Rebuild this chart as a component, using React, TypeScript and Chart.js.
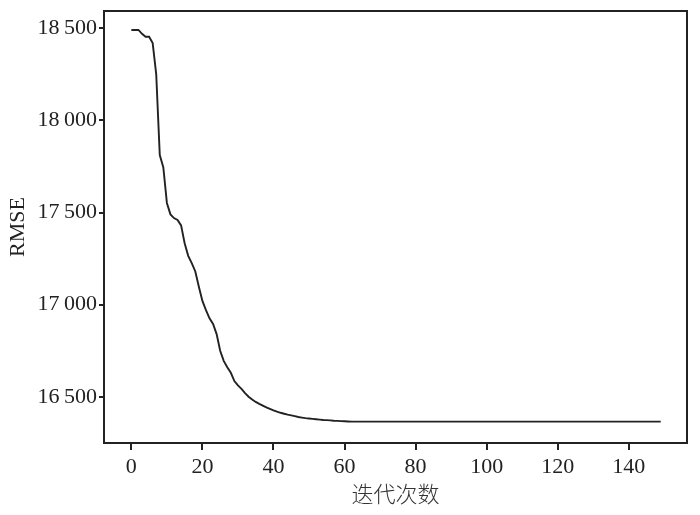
import React, { useEffect, useRef } from "react";
import { Chart, registerables } from "chart.js";

Chart.register(...registerables);

// Iteration index and RMSE
const iterations: number[] = [
  0, 1, 2, 3, 4, 5, 6, 7, 8, 9, 10, 11, 12, 13, 14, 15, 16, 17, 18, 19, 20,
  21, 22, 23, 24, 25, 26, 27, 28, 29, 30, 31, 32, 33, 34, 35, 36, 37, 38, 39, 40,
  41, 42, 43, 44, 45, 46, 47, 48, 49, 50, 51, 52, 53, 54, 55, 56, 57, 58, 59, 60,
  61, 62, 70, 80, 90, 100, 110, 120, 130, 140, 149,
];
const rmse: number[] = [
  18491, 18491, 18491, 18470, 18454, 18454, 18420, 18250, 17812, 17745, 17552,
  17490, 17470, 17460, 17430, 17333, 17265, 17225, 17180, 17097, 17020,
  16970, 16926, 16895, 16840, 16750, 16695, 16660, 16630, 16585, 16562,
  16543, 16520, 16500, 16485, 16472, 16461, 16452, 16442, 16434, 16426,
  16419, 16413, 16408, 16403, 16399, 16395, 16390, 16387, 16384, 16382,
  16380, 16378, 16376, 16374, 16373, 16372, 16370, 16369, 16368, 16367,
  16366, 16365, 16365, 16365, 16365, 16365, 16365, 16365, 16365, 16365, 16365,
];
const xTickValues: number[] = [0, 20, 40, 60, 80, 100, 120, 140];
const yTickValues: number[] = [16500, 17000, 17500, 18000, 18500];
const xTitle = "迭代次数";
const yTitle = "RMSE";

const INK = "#222222";
const SERIF = "'Liberation Serif', 'DejaVu Serif', serif";

const framePlugin = {
  id: "frameBox",
  afterDatasetsDraw(chart: any) {
    const { ctx, chartArea } = chart;
    ctx.save();
    ctx.strokeStyle = INK;
    ctx.lineWidth = 2;
    ctx.strokeRect(
      chartArea.left,
      chartArea.top,
      chartArea.right - chartArea.left,
      chartArea.bottom - chartArea.top
    );
    ctx.restore();
  },
};

const fmt = (v: number) => {
  const s = String(Math.round(v));
  return s.length > 3 ? s.slice(0, s.length - 3) + "\u2009" + s.slice(-3) : s;
};

export default function App() {
  const ref = useRef<HTMLCanvasElement | null>(null);
  useEffect(() => {
    if (!ref.current) return;
    const chart = new Chart(ref.current, {
      type: "line",
      data: {
        datasets: [
          {
            data: iterations.map((x, i) => ({ x, y: rmse[i] })),
            borderColor: INK,
            borderWidth: 1.9,
            pointRadius: 0,
            tension: 0,
            fill: false,
          },
        ],
      },
      options: {
        responsive: false,
        animation: false,
        layout: { padding: { top: 11, right: 13, bottom: 0, left: 0 } },
        plugins: {
          legend: { display: false },
          tooltip: { enabled: false },
        },
        scales: {
          x: {
            type: "linear",
            min: -7.7,
            max: 156.4,
            afterBuildTicks: (s: any) => {
              s.ticks = xTickValues.map((v) => ({ value: v }));
            },
            afterFit: (s: any) => {
              s.height = 72;
            },
            grid: {
              drawOnChartArea: false,
              drawTicks: true,
              tickLength: 7,
              color: INK,
              lineWidth: 2,
            },
            border: { display: true, color: INK, width: 2 },
            ticks: {
              color: INK,
              font: { family: SERIF, size: 22 },
              padding: 4.5,
              maxRotation: 0,
              autoSkip: false,
              callback: (v: any) => String(v),
            },
            title: {
              display: true,
              text: xTitle,
              color: "#333333",
              font: { family: "'Noto Sans CJK SC', sans-serif", size: 22, weight: "300" as any },
              padding: { top: 2, bottom: 8.5 },
            },
          },
          y: {
            type: "linear",
            min: 16249,
            max: 18594,
            afterBuildTicks: (s: any) => {
              s.ticks = yTickValues.map((v) => ({ value: v }));
            },
            afterFit: (s: any) => {
              s.width = 104;
              s.paddingTop = 0;
              s.paddingBottom = 0;
            },
            grid: {
              drawOnChartArea: false,
              drawTicks: true,
              tickLength: 5,
              color: INK,
              lineWidth: 2,
            },
            border: { display: true, color: INK, width: 2 },
            ticks: {
              color: INK,
              font: { family: SERIF, size: 22, lineHeight: 1 },
              padding: 2,
              autoSkip: false,
              callback: (v: any) => fmt(Number(v)),
            },
            title: {
              display: true,
              text: yTitle,
              color: INK,
              font: { family: SERIF, size: 22 },
              padding: { top: 5, bottom: 0 },
            },
          },
        },
      },
      plugins: [framePlugin],
    });
    return () => chart.destroy();
  }, []);
  return (
    <div style={{ position: "absolute", left: 0, top: 0, width: 700, height: 515, background: "#fff" }}>
      <canvas ref={ref} width={700} height={515} />
    </div>
  );
}
